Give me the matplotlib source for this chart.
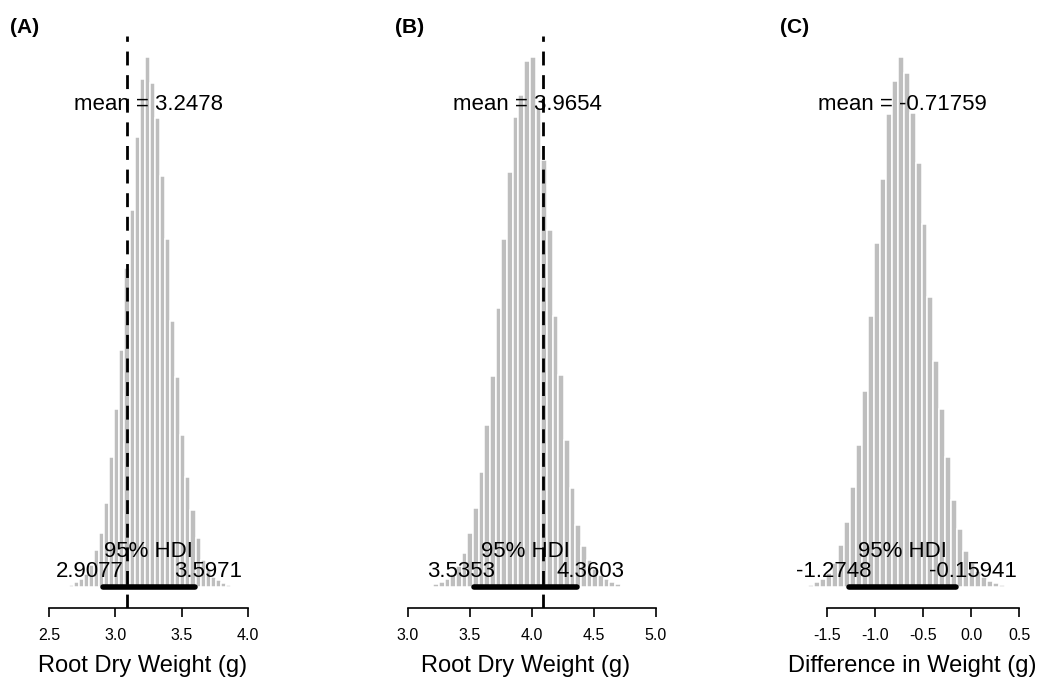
import numpy as np
import matplotlib
matplotlib.use('Agg')
import matplotlib.pyplot as plt

plt.rcParams['font.family'] = ['Liberation Sans', 'DejaVu Sans']

# posterior density per histogram bin, left to right
dens_a = [0.009, 0.023, 0.037, 0.060, 0.102, 0.172, 0.251, 0.390, 0.604, 0.827,
          1.102, 1.483, 1.752, 2.092, 2.361, 2.464, 2.343, 2.180, 1.910, 1.618,
          1.236, 0.976, 0.707, 0.511, 0.358, 0.228, 0.126, 0.079, 0.046, 0.033,
          0.019, 0.009]
dens_b = [0.011, 0.018, 0.029, 0.048, 0.077, 0.125, 0.199, 0.290, 0.423, 0.596,
          0.776, 1.026, 1.280, 1.526, 1.728, 1.809, 1.934, 1.949, 1.761, 1.570,
          1.313, 0.996, 0.780, 0.541, 0.364, 0.228, 0.151, 0.099, 0.066, 0.044,
          0.029, 0.018, 0.011, 0.004]
dens_c = [0.005, 0.014, 0.022, 0.038, 0.065, 0.113, 0.176, 0.270, 0.384, 0.530,
          0.732, 0.930, 1.102, 1.278, 1.367, 1.432, 1.389, 1.281, 1.146, 0.981,
          0.784, 0.611, 0.481, 0.351, 0.235, 0.157, 0.097, 0.065, 0.043, 0.027,
          0.016, 0.011, 0.005]

# first break of each histogram (bin width = HDI width / 18)
start_a = 2.6471
start_b = 3.2035
start_c = -1.6928

mean_a = 3.2478
mean_b = 3.9654
mean_c = -0.71759

hdi_a = [2.9077, 3.5971]
hdi_b = [3.5353, 4.3603]
hdi_c = [-1.2748, -0.15941]

# reference values (dashed lines)
ref_a = 3.09
ref_b = 4.09

ticks_a = [2.5, 3.0, 3.5, 4.0]
ticks_b = [3.0, 3.5, 4.0, 4.5, 5.0]
ticks_c = [-1.5, -1.0, -0.5, 0.0, 0.5]
ticklabels_a = ['2.5', '3.0', '3.5', '4.0']
ticklabels_b = ['3.0', '3.5', '4.0', '4.5', '5.0']
ticklabels_c = ['-1.5', '-1.0', '-0.5', '0.0', '0.5']

xlab_a = 'Root Dry Weight (g)'
xlab_b = 'Root Dry Weight (g)'
xlab_c = 'Difference in Weight (g)'

W, H = 1042, 688
fig = plt.figure(figsize=(W / 100, H / 100), dpi=100)

panels = [
    ('(A)', dens_a, start_a, mean_a, hdi_a, ref_a, ticks_a, ticklabels_a, xlab_a,
     (20, 265), (2.2815, 4.1277), 10),
    ('(B)', dens_b, start_b, mean_b, hdi_b, ref_b, ticks_b, ticklabels_b, xlab_b,
     (380, 671), (2.7742, 5.1210), 395),
    ('(C)', dens_c, start_c, mean_c, hdi_c, None, ticks_c, ticklabels_c, xlab_c,
     (787, 1037), (-1.9167, 0.6875), 780),
]

hdi_texts = []
for name, dens, start, mu, hdi, ref, ticks, tlabels, xlab, px, xlim, lab_x in panels:
    ax = fig.add_axes([px[0] / W, 80 / H, (px[1] - px[0]) / W, 572 / H])
    dens = np.array(dens)
    bw = (hdi[1] - hdi[0]) / 18
    left = start + bw * np.arange(len(dens))
    ax.bar(left, dens, width=bw, align='edge', color='#bebebe',
           edgecolor='white', linewidth=1.1)

    top = dens.max()
    ax.set_ylim(-0.04 * top, 1.04 * top)
    ax.set_xlim(*xlim)

    if ref is not None:
        ax.axvline(ref, color='black', lw=2, ls=(0, (5, 3.5)))

    ax.plot(hdi, [0, 0], color='black', lw=4, solid_capstyle='round')

    ax.text(mu, 0.9 * top, 'mean = ' + str(mu), ha='center', va='baseline',
            fontsize=16)
    ax.annotate('95% HDI', xy=(np.mean(hdi), 0), xytext=(0, 30),
                textcoords='offset pixels', ha='center', va='baseline',
                fontsize=16)
    t1 = ax.annotate(str(hdi[0]), xy=(hdi[0], 0), xytext=(0, 10),
                     textcoords='offset pixels', ha='center', va='baseline',
                     fontsize=16)
    t2 = ax.annotate(str(hdi[1]), xy=(hdi[1], 0), xytext=(0, 10),
                     textcoords='offset pixels', ha='center', va='baseline',
                     fontsize=16)
    hdi_texts.append((t1, 0.7))
    hdi_texts.append((t2, 0.3))

    for s in ['left', 'right', 'top']:
        ax.spines[s].set_visible(False)
    ax.spines['bottom'].set_bounds(ticks[0], ticks[-1])
    ax.spines['bottom'].set_linewidth(1.2)
    ax.set_yticks([])
    ax.set_xticks(ticks)
    ax.set_xticklabels(tlabels)
    ax.tick_params(axis='x', length=6.5, width=1.2, labelsize=11.5, pad=8)
    ax.set_xlabel(xlab, fontsize=17)
    ax.xaxis.set_label_coords(0.5, -0.083)
    ax.xaxis.label.set_va('top')

    fig.text(lab_x / W, 1 - 33 / H, name, fontsize=15, fontweight='bold',
             va='baseline')

# shift the HDI limit labels so the limit sits 70% / 30% along the text
fig.canvas.draw()
for t, adj in hdi_texts:
    w = t.get_window_extent().width
    t.xyann = ((0.5 - adj) * w, 10)

fig.savefig('out.png', dpi=100)
